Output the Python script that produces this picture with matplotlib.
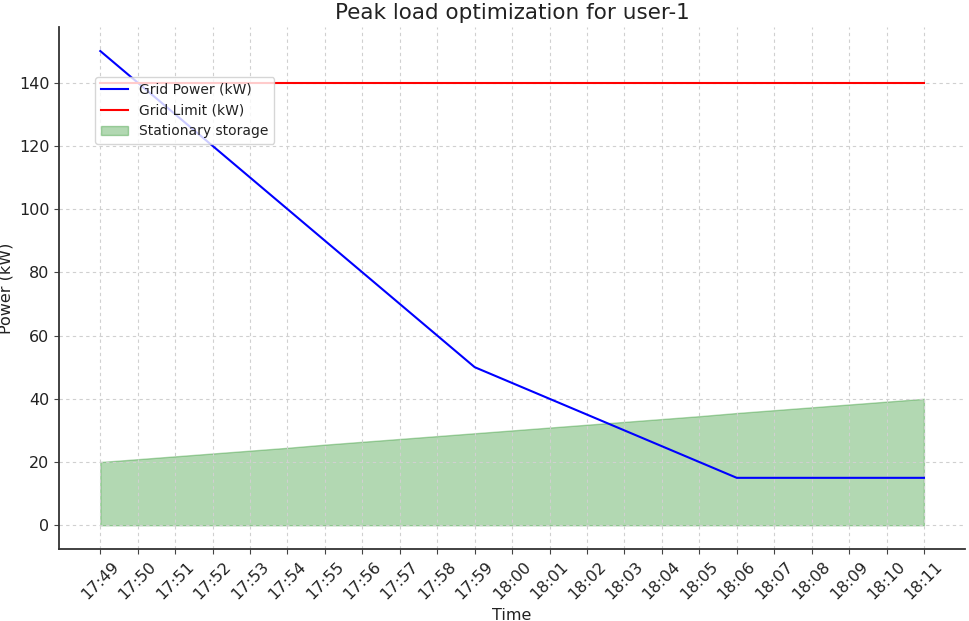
import matplotlib.pyplot as plt

times = ['17:49', '17:50', '17:51', '17:52', '17:53', '17:54', '17:55', '17:56',
         '17:57', '17:58', '17:59', '18:00', '18:01', '18:02', '18:03', '18:04',
         '18:05', '18:06', '18:07', '18:08', '18:09', '18:10', '18:11']
grid_power = [150, 140, 130, 120, 110, 100, 90, 80, 70, 60, 50, 45, 40, 35, 30,
              25, 20, 15, 15, 15, 15, 15, 15]
grid_limit = [140] * len(times)
storage = [20.0, 20.9, 21.8, 22.7, 23.6, 24.5, 25.5, 26.4, 27.3, 28.2, 29.1, 30.0,
           30.9, 31.8, 32.7, 33.6, 34.5, 35.5, 36.4, 37.3, 38.2, 39.1, 40.0]

x = list(range(len(times)))
txt = '#222222'

fig, ax = plt.subplots(figsize=(9.69, 6.21), dpi=100)
fill = ax.fill_between(x, 0, storage, color='green', alpha=0.3, label='Stationary storage')
l1, = ax.plot(x, grid_power, color='blue', lw=1.5, label='Grid Power (kW)')
l2, = ax.plot(x, grid_limit, color='red', lw=1.5, label='Grid Limit (kW)')

ax.set_xticks(x)
ax.set_xticklabels(times, rotation=45, fontsize=11.5, color=txt)
ax.tick_params(axis='y', labelsize=11.5, labelcolor=txt)
ax.tick_params(color='#444444')
ax.set_yticks([0, 20, 40, 60, 80, 100, 120, 140])
ax.set_xlabel('Time', fontsize=11.5, color=txt)
ax.set_ylabel('Power (kW)', fontsize=11.5, color=txt)
ax.set_title('Peak load optimization for user-1', fontsize=15.5, color=txt)
ax.grid(True, linestyle=(0, (3, 3)), color='#d0d0d0', lw=0.8)
ax.spines['top'].set_visible(False)
ax.spines['right'].set_visible(False)
for s in ('left', 'bottom'):
    ax.spines[s].set_color('#333333')
    ax.spines[s].set_linewidth(1.3)
ax.legend(handles=[l1, l2, fill], loc='upper left', bbox_to_anchor=(0.032, 0.918),
          fontsize=10, labelcolor=txt)

fig.subplots_adjust(left=0.061, right=0.996, top=0.956, bottom=0.116)
plt.savefig('out.png')
